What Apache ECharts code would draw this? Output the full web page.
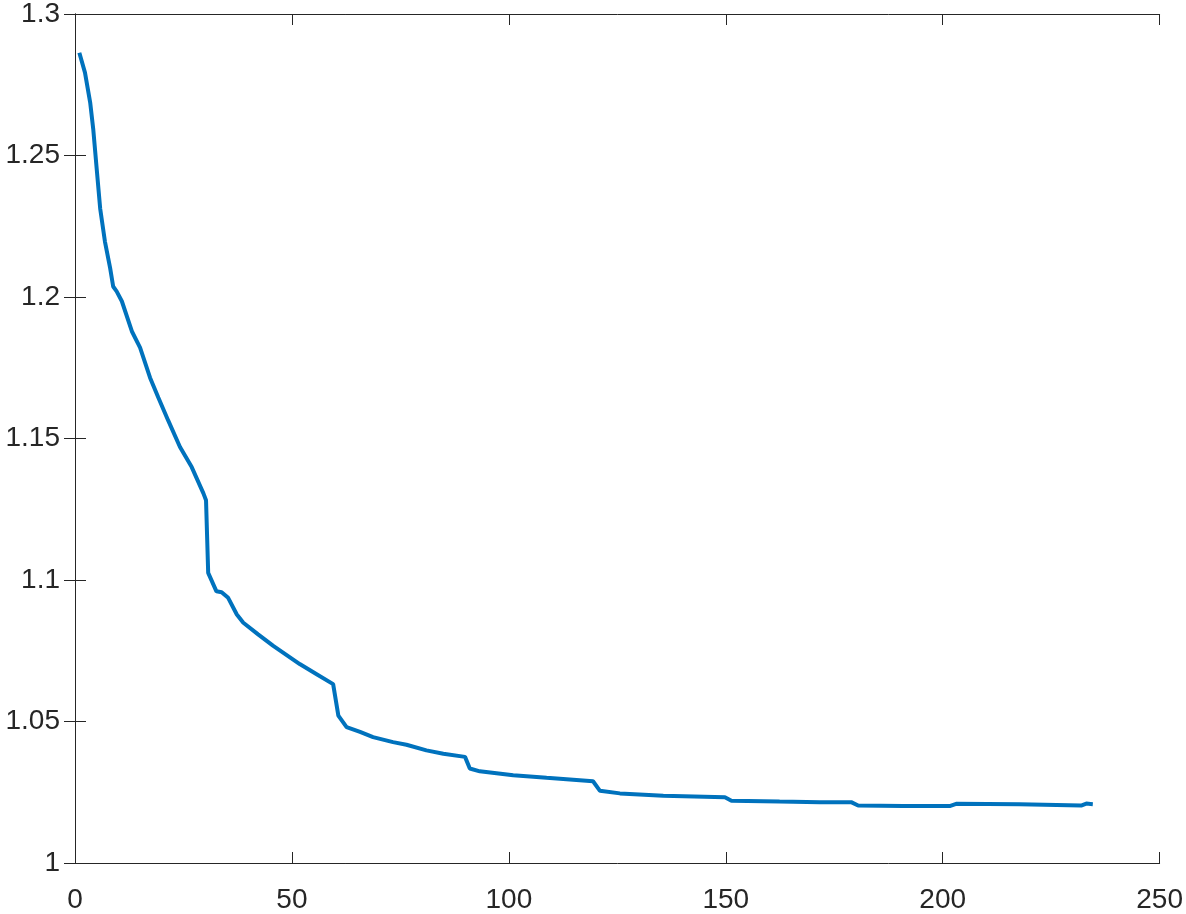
<!DOCTYPE html>
<html>
<head>
<meta charset="utf-8">
<script src="https://cdn.jsdelivr.net/npm/echarts@6/dist/echarts.min.js"></script>
<style>
  html, body { margin: 0; padding: 0; background: #fff; }
  #chart { width: 1186px; height: 914px; }
</style>
</head>
<body>
<div id="chart"></div>
<script>
// iteration numbers (x)
var iterX = [1, 2.3, 3.5, 4.2, 5, 5.8, 6.9, 8.1, 8.8, 9.6, 10.8, 13.1, 15, 17.3, 19.2, 21.5, 24.2, 26.9, 29.6, 30.2,
  30.7, 32.6, 33.8, 35.3, 37.3, 38.8, 42.2, 45.7, 51.8, 55.7, 59.5,
  60.7, 62.6, 65.7, 68.7, 73.3, 76.4, 81, 84.9, 89.9,
  91, 93.3, 101, 108.7, 119.4,
  121, 125.6, 135.6, 149.8,
  151.3, 162.4, 171.7, 178.9,
  180.5, 190.9, 201.6, 203.1, 217.7, 231.9, 233.1, 234.6];
// objective values (y)
var costY = [1.2863, 1.2793, 1.2687, 1.2594, 1.2453, 1.2313, 1.2196, 1.2102, 1.2037, 1.2020, 1.1985, 1.1879, 1.1821, 1.1715, 1.1645, 1.1563, 1.1470, 1.1399, 1.1306, 1.1282,
  1.1025, 1.0960, 1.0957, 1.0937, 1.0878, 1.0849, 1.0808, 1.0767, 1.0703, 1.0667, 1.0632,
  1.0521, 1.0480, 1.0463, 1.0445, 1.0427, 1.0418, 1.0398, 1.0386, 1.0375,
  1.0334, 1.0324, 1.0310, 1.0301, 1.0289,
  1.0255, 1.0246, 1.0238, 1.0232,
  1.0220, 1.0217, 1.0215, 1.0215,
  1.0203, 1.0201, 1.0201, 1.0209, 1.0208, 1.0203, 1.0210, 1.0208];

var axisColor = "#262626";
var fontName = "Liberation Sans";

var lineData = iterX.map(function (x, i) {
  return [x, costY[i]];
});

var chart = echarts.init(document.getElementById("chart"), null, { renderer: "canvas" });

var option = {
  animation: false,
  backgroundColor: "#fff",
  grid: { left: 75, right: 26, top: 11, bottom: 49, containLabel: false },
  xAxis: [
    {
      type: "value",
      min: 0,
      max: 250,
      interval: 50,
      axisLine: { show: true, lineStyle: { color: axisColor, width: 1 } },
      axisTick: { show: true, inside: true, length: 11, lineStyle: { color: axisColor } },
      axisLabel: { color: axisColor, fontSize: 28, fontFamily: fontName, margin: 23 },
      splitLine: { show: false }
    },
    {
      type: "value",
      position: "top",
      min: 0,
      max: 250,
      interval: 50,
      axisLine: { show: true, lineStyle: { color: axisColor, width: 1 } },
      axisTick: { show: true, inside: true, length: 11, lineStyle: { color: axisColor } },
      axisLabel: { show: false },
      splitLine: { show: false }
    }
  ],
  yAxis: [
    {
      type: "value",
      min: 1,
      max: 1.3,
      interval: 0.05,
      axisLine: { show: true, lineStyle: { color: axisColor, width: 1 } },
      axisTick: { show: true, inside: true, length: 11, lineStyle: { color: axisColor } },
      axisLabel: {
        color: axisColor,
        fontSize: 28,
        fontFamily: fontName,
        margin: 15,
        formatter: function (v) { return String(parseFloat(v.toFixed(2))); }
      },
      splitLine: { show: false }
    },
    {
      type: "value",
      position: "right",
      min: 1,
      max: 1.3,
      interval: 0.05,
      axisLine: { show: true, lineStyle: { color: axisColor, width: 1 } },
      axisTick: { show: true, inside: true, length: 11, lineStyle: { color: axisColor } },
      axisLabel: { show: false },
      splitLine: { show: false }
    }
  ],
  series: [
    {
      type: "line",
      data: lineData,
      xAxisIndex: 0,
      yAxisIndex: 0,
      showSymbol: false,
      smooth: false,
      lineStyle: { color: "#0072BD", width: 4 }
    }
  ]
};

chart.setOption(option);
</script>
</body>
</html>
